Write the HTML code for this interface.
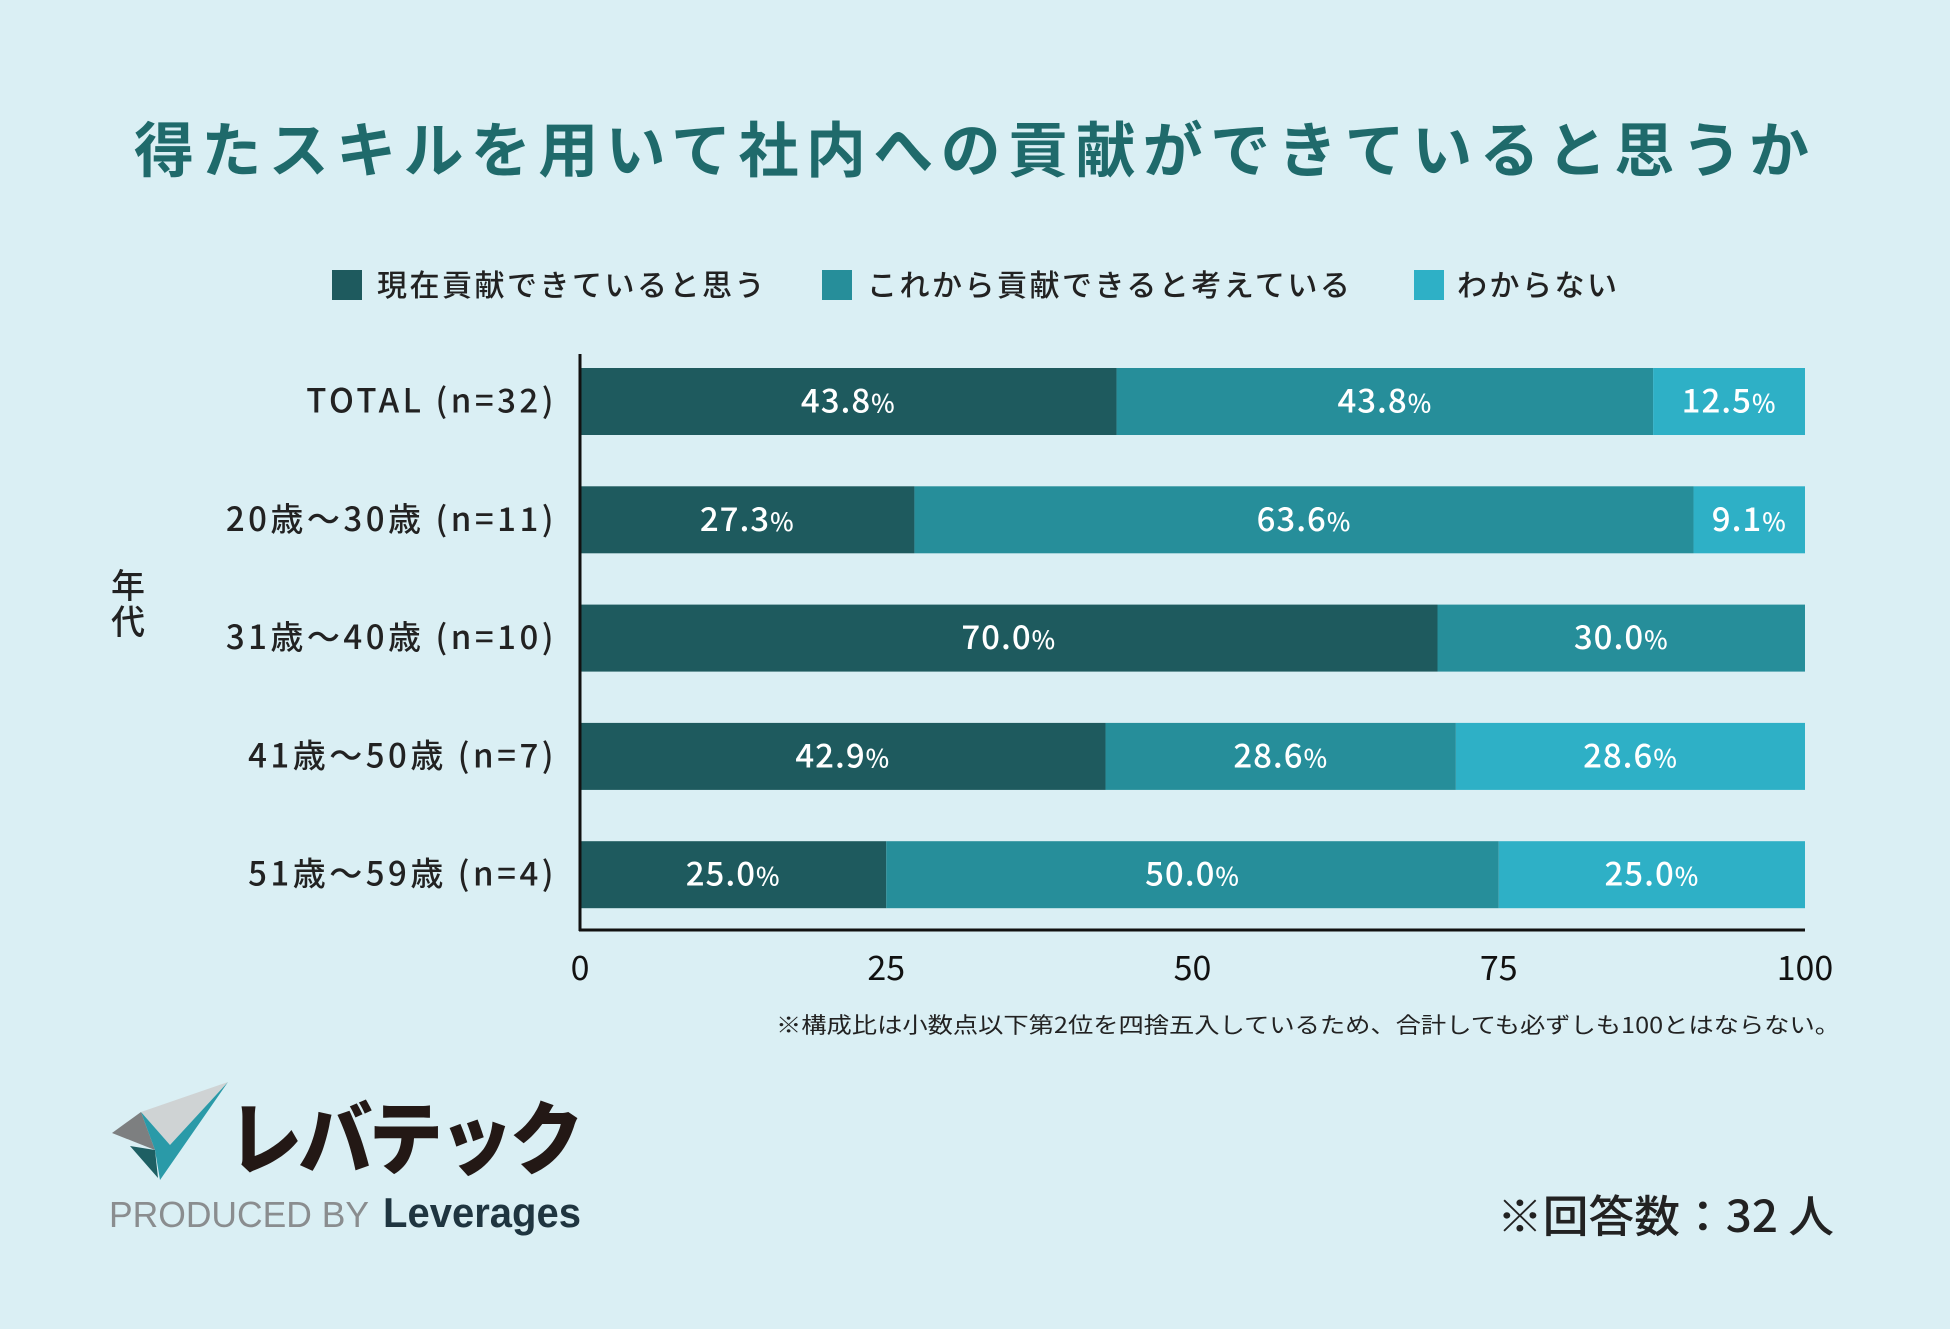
<!DOCTYPE html>
<html><head><meta charset="utf-8"><style>
html,body{margin:0;padding:0;background:#daeff4;}
svg{display:block;font-family:"Liberation Sans","Noto Sans CJK JP",sans-serif;}
</style></head><body>
<svg id="chart" width="1950" height="1329" viewBox="0 0 1950 1329" xmlns="http://www.w3.org/2000/svg">
<rect width="1950" height="1329" fill="#daeff4"/>
<text x="134" y="172" font-size="60" font-weight="700" fill="#1f6a6b" textLength="1675" lengthAdjust="spacing" font-family="Noto Sans CJK JP, sans-serif">得たスキルを用いて社内への貢献ができていると思うか</text>
<g id="legend" font-family="Noto Sans CJK JP, sans-serif" font-size="30" font-weight="500" fill="#222">
<g><rect x="332" y="270" width="30" height="30" fill="#1e5a5e"/><text x="377" y="296" letter-spacing="2.5">現在貢献できていると思う</text></g>
<g><rect x="822" y="270" width="30" height="30" fill="#268e9a"/><text x="867" y="296" letter-spacing="2.5">これから貢献できると考えている</text></g>
<g><rect x="1414" y="270" width="30" height="30" fill="#2eb0c6"/><text x="1457" y="296" letter-spacing="2.5">わからない</text></g>
</g>
<text x="128" y="598" text-anchor="middle" font-size="34" font-weight="500" fill="#222" font-family="Noto Sans CJK JP, sans-serif">年</text>
<text x="128" y="634" text-anchor="middle" font-size="34" font-weight="500" fill="#222" font-family="Noto Sans CJK JP, sans-serif">代</text>
<g id="bars"></g>
<g id="axes"></g>
<text x="776" y="1033" font-size="22" fill="#222" textLength="1064" lengthAdjust="spacingAndGlyphs" font-family="Noto Sans CJK JP, sans-serif">※構成比は小数点以下第2位を四捨五入しているため、合計しても必ずしも100とはならない。</text>
<text x="1497" y="1232" font-size="44" font-weight="500" fill="#222" textLength="337" lengthAdjust="spacingAndGlyphs" font-family="Noto Sans CJK JP, sans-serif">※回答数：32 人</text>
<g>
<polygon points="112,1133 141,1112 155,1150" fill="#7d7f80"/>
<polygon points="141,1112 228,1082 170,1145" fill="#cfd3d4"/>
<polygon points="141,1112 155,1150 160,1180 228,1082 170,1145" fill="#2a9aa8"/>
<polygon points="130,1146 155,1150 158,1178" fill="#1e5f63"/>
<text x="228" y="1168" font-size="80" font-weight="900" fill="#231815" font-family="Noto Sans CJK JP, sans-serif" letter-spacing="-4" textLength="352" lengthAdjust="spacingAndGlyphs">レバテック</text>
<text x="109" y="1227" font-size="36" fill="#8a8d8f" textLength="260" lengthAdjust="spacingAndGlyphs">PRODUCED BY</text>
<text x="383" y="1227" font-size="42" font-weight="700" fill="#1f3540" textLength="198" lengthAdjust="spacingAndGlyphs">Leverages</text>
</g>
</svg>
<script>
const categories = ["TOTAL (n=32)","20歳～30歳 (n=11)","31歳～40歳 (n=10)","41歳～50歳 (n=7)","51歳～59歳 (n=4)"];
const seriesCurrent = [43.8,27.3,70.0,42.9,25.0];
const seriesFuture = [43.8,63.6,30.0,28.6,50.0];
const seriesUnknown = [12.5,9.1,0,28.6,25.0];
const tickValues = [0,25,50,75,100];
const NS="http://www.w3.org/2000/svg";
const x0=580,x1=1805,top0=368,pitch=118.3,bh=67;
const xs=v=>x0+(x1-x0)*Math.min(v,100)/100;
const ys=i=>top0+i*pitch;
const series=[{d:seriesCurrent,c:"#1e5a5e",n:"current"},{d:seriesFuture,c:"#268e9a",n:"future"},{d:seriesUnknown,c:"#2eb0c6",n:"unknown"}];
const bars=document.getElementById('bars'),axes=document.getElementById('axes');
function mk(t,a,p){const e=document.createElementNS(NS,t);for(const k in a)e.setAttribute(k,a[k]);p.appendChild(e);return e;}
categories.forEach((cat,i)=>{
  const y=ys(i);
  const lab=mk('text',{x:557,y:y+bh/2+11,'text-anchor':'end','font-size':33,'font-weight':500,'letter-spacing':3.5,fill:'#222','font-family':'Noto Sans CJK JP, sans-serif'},axes);
  
  
  lab.textContent=cat;
  let cum=0;
  series.forEach(s=>{
    const v=s.d[i];if(!v)return;
    const a=xs(cum),b=xs(cum+v);cum+=v;
    const r=mk('rect',{x:a,y:y,width:Math.max(0,b-a),height:bh,fill:s.c},bars);
    
    
    const t=mk('text',{x:(a+b)/2,y:y+bh/2+11,'text-anchor':'middle','font-size':33,'font-weight':500,'letter-spacing':1,fill:'#fff','font-family':'Noto Sans CJK JP, sans-serif'},bars);
    
    
    t.textContent=v.toFixed(1);
    const sp=mk('tspan',{'font-size':25},t);sp.textContent='%';
  });
});
const ya=mk('line',{x1:x0,y1:354,x2:x0,y2:931,stroke:'#111','stroke-width':3},axes);


const xa=mk('line',{x1:x0-1,y1:930,x2:x1,y2:930,stroke:'#111','stroke-width':3},axes);


tickValues.forEach(v=>{
  const t=mk('text',{x:xs(v),y:980,'text-anchor':'middle','font-size':34,fill:'#111','font-family':'Noto Sans CJK JP, sans-serif'},axes);
  
  
  t.textContent=v;
});
</script>
</body></html>
